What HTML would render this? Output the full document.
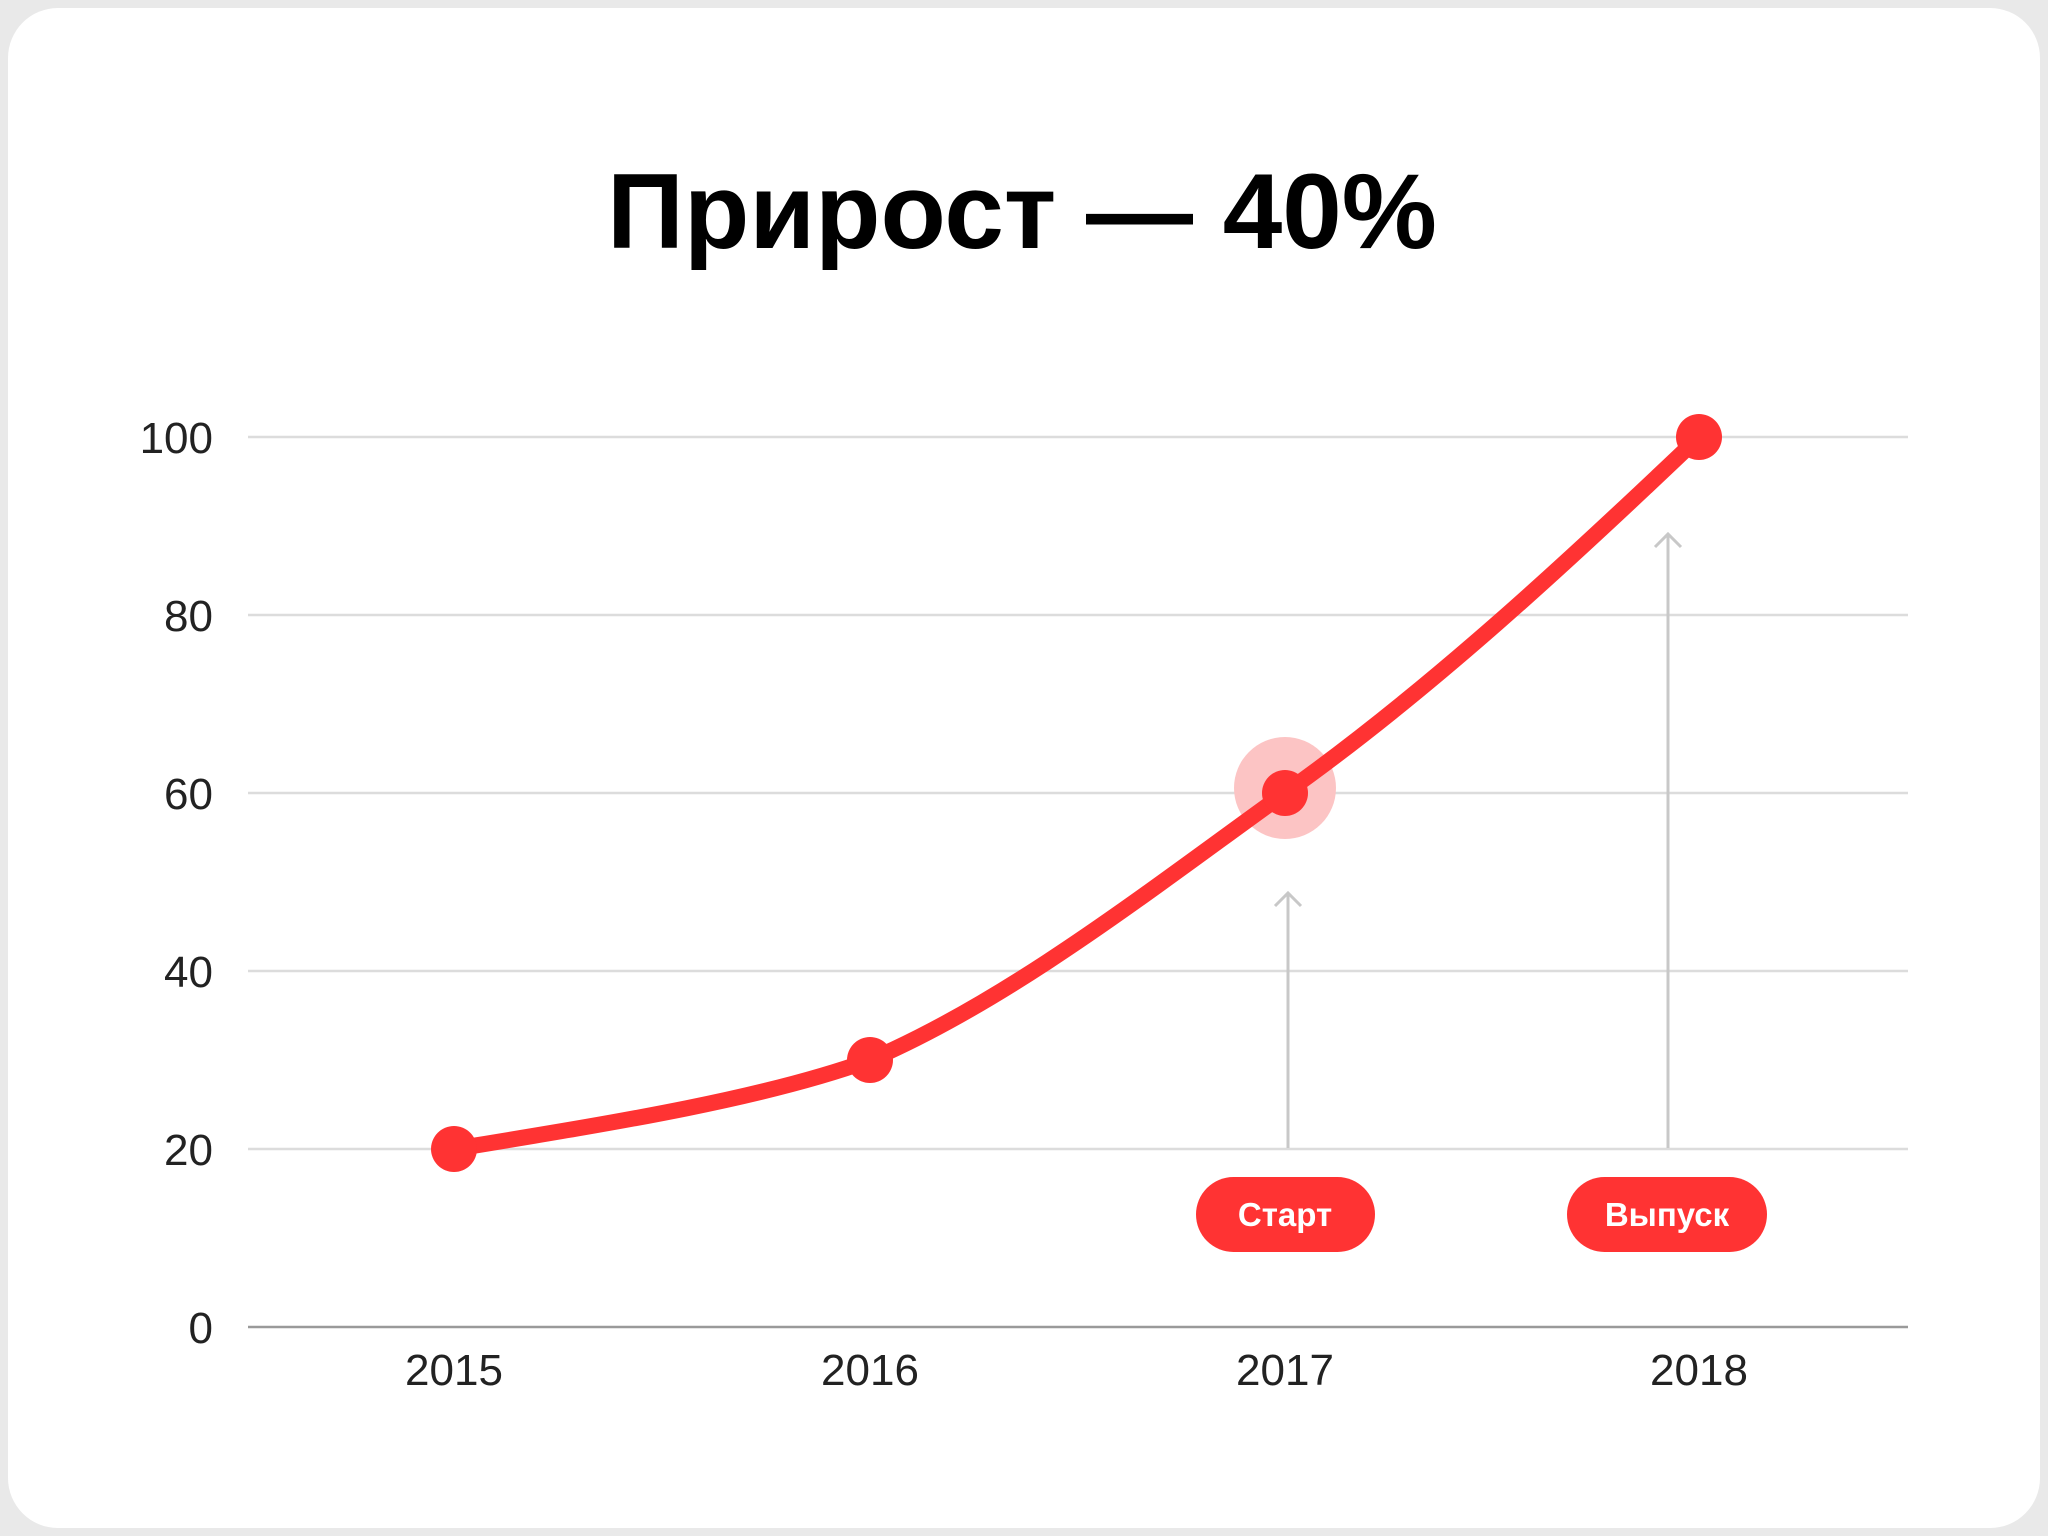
<!DOCTYPE html>
<html><head><meta charset="utf-8"><style>
html,body{margin:0;padding:0;background:#e9e9e9;}
svg{display:block}
text{font-family:"Liberation Sans","DejaVu Sans",sans-serif}
</style></head><body>
<svg width="2048" height="1536" viewBox="0 0 2048 1536" xmlns="http://www.w3.org/2000/svg">
<rect x="0" y="0" width="2048" height="1536" fill="#e9e9e9"/>
<rect x="8" y="8" width="2032" height="1520" rx="50" fill="#ffffff"/>
<text x="1022" y="248" text-anchor="middle" font-size="107" font-weight="bold" fill="#000">Прирост — 40%</text>
<g stroke="#dcdcdc" stroke-width="2.5">
<line x1="248" y1="437" x2="1908" y2="437"/>
<line x1="248" y1="615" x2="1908" y2="615"/>
<line x1="248" y1="793" x2="1908" y2="793"/>
<line x1="248" y1="971" x2="1908" y2="971"/>
<line x1="248" y1="1149" x2="1908" y2="1149"/>
</g>
<line x1="248" y1="1327" x2="1908" y2="1327" stroke="#9a9a9a" stroke-width="2.5"/>
<g font-size="44" fill="#222" text-anchor="end">
<text x="213" y="453">100</text>
<text x="213" y="631">80</text>
<text x="213" y="809">60</text>
<text x="213" y="987">40</text>
<text x="213" y="1165">20</text>
<text x="213" y="1343">0</text>
</g>
<g font-size="44" fill="#222" text-anchor="middle">
<text x="454" y="1385">2015</text>
<text x="870" y="1385">2016</text>
<text x="1285" y="1385">2017</text>
<text x="1699" y="1385">2018</text>
</g>
<g stroke="#c8c8c8" stroke-width="3" fill="none">
<line x1="1288" y1="1148" x2="1288" y2="893"/>
<polyline points="1275,906 1288,893 1301,906"/>
<line x1="1668" y1="1148" x2="1668" y2="534"/>
<polyline points="1655,547 1668,534 1681,547"/>
</g>
<circle cx="1285" cy="788" r="51" fill="#fcc4c4"/>
<path d="M454,1149 C600,1125 760,1100 870,1060 C1010,1000 1150,890 1285,793 C1430,690 1570,560 1699,437" stroke="#ff3333" stroke-width="16" fill="none" stroke-linecap="round"/>
<g fill="#ff3333">
<circle cx="454" cy="1149" r="23"/>
<circle cx="870" cy="1060" r="23"/>
<circle cx="1285" cy="793" r="23"/>
<circle cx="1699" cy="437" r="23"/>
<rect x="1196" y="1177" width="179" height="75" rx="37.5"/>
<rect x="1567" y="1177" width="200" height="75" rx="37.5"/>
</g>
<g font-size="33" font-weight="bold" fill="#fff" text-anchor="middle">
<text x="1285" y="1226">Старт</text>
<text x="1667" y="1226">Выпуск</text>
</g>
</svg>
</body></html>
